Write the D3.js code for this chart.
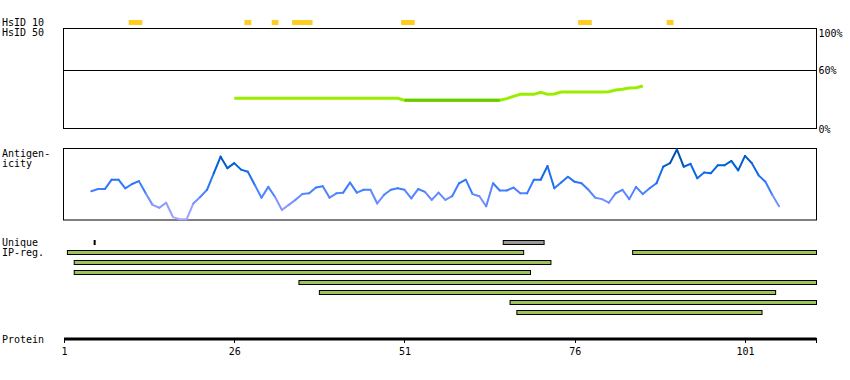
<!DOCTYPE html>
<html>
<head>
<meta charset="utf-8">
<script src="https://cdn.jsdelivr.net/npm/d3@7"></script>
<style>
  html, body { margin: 0; padding: 0; background: #fff; }
  svg text { font-family: "DejaVu Sans Mono", monospace; font-size: 10px; fill: #000; }
</style>
</head>
<body>
<svg id="chart" width="850" height="380"></svg>
<script>
// ---------------- data ----------------
const proteinLength = 111;
const axisTicks = [1, 26, 51, 76, 101];

// HsID 10 regions (residue start, end)
const hsid10Start = [11, 28, 32, 35, 51, 77, 90];
const hsid10End   = [12, 28, 32, 37, 52, 78, 90];

// HsID 50 identity (%) for residues 26..86
const hsid50FirstResidue = 26;
const hsid50Values = [
  31,31,31,31,31,31,31,31,31,31,31,31,31,31,31,31,31,31,31,31,31,31,31,31,31,
  29,29,29,29,29,29,29,29,29,29,29,29,29,29,29,
  30.7,33,35,35,35,37,35,35.4,
  37.4,37.4,37.4,37.4,37.4,37.4,37.4,
  37.7,39.4,40.1,41.4,41.7,43.4
];
const hsid50DarkStart = 51, hsid50DarkEnd = 65;
const hsid50Threshold = 60;
const hsid50AxisLabels = ["100%", "60%", "0%"];
const hsid50AxisValues = [100, 60, 0];

// Antigenicity score (0..100) for residues 5..106
const antigenFirstResidue = 5;
const antigenValues = [
  40,43,43,56,56,44,50,54,37,21,
  17,24,4,1,1,23,32,42,65,88,
  72,79,70,67,49,31,46,32,14,21,
  28,36,37,45,47,31,37,38,52,38,
  42,42,23,35,42,44,42,30,43,39,
  28,38,28,33,51,56,36,33,19,51,
  41,41,45,37,37,56,56,75,44,52,
  60,53,51,42,31,29,24,37,42,29,
  46,36,44,51,74,79,98,74,78,58,
  66,65,76,76,82,69,89,79,62,53,
  35,19
];

// Unique regions (residue boundaries)
const uniqueStart = [5.5, 65.5];
const uniqueEnd   = [5.5, 71.5];

// IP regions (residue start, end, row)
const ipStart = [2, 85, 3, 3, 36, 39, 67, 68];
const ipEnd   = [68, 111, 72, 69, 111, 105, 111, 103];
const ipRow   = [0, 0, 1, 2, 3, 4, 5, 6];

// ---------------- drawing ----------------
const svg = d3.select("#chart");
const x = d3.scaleLinear().domain([1, proteinLength + 0.5]).range([64, 816.5]);
const xL = x(1), xR = x(proteinLength + 0.5);

// left labels
const labels = [
  ["HsID 10", 26], ["HsID 50", 36], ["Antigen-", 157], ["icity", 167],
  ["Unique", 246], ["IP-reg.", 256], ["Protein", 343]
];
svg.selectAll("text.lbl").data(labels).join("text")
  .attr("class", "lbl").attr("x", 2).attr("y", d => d[1]).text(d => d[0]);

// HsID 10 bars
svg.selectAll("rect.h10").data(hsid10Start.map((s, i) => [s, hsid10End[i]])).join("rect")
  .attr("class", "h10")
  .attr("x", d => x(d[0] - 0.5)).attr("width", d => x(d[1] + 0.5) - x(d[0] - 0.5))
  .attr("y", 20).attr("height", 5).attr("fill", "#ffcc22");

// HsID 50 panel
const yP = d3.scaleLinear().domain([0, 100]).range([129, 30]);
svg.append("rect").attr("x", xL - 0.5).attr("y", 28.5).attr("width", xR - xL + 0.5).attr("height", 100)
  .attr("fill", "none").attr("stroke", "#000").attr("stroke-width", 1);
svg.append("line").attr("x1", xL).attr("x2", xR)
  .attr("y1", Math.round(yP(hsid50Threshold)) + 0.5).attr("y2", Math.round(yP(hsid50Threshold)) + 0.5)
  .attr("stroke", "#000").attr("stroke-width", 1);
const pctY = [37, 74, 133];
svg.selectAll("text.pct").data(hsid50AxisLabels).join("text")
  .attr("class", "pct").attr("x", xR + 2).attr("y", (d, i) => pctY[i]).text(d => d);

const h50 = hsid50Values.map((v, i) => ({ r: hsid50FirstResidue + i, v }));
const lineP = d3.line().x(d => x(d.r)).y(d => yP(d.v));
svg.append("path").datum(h50).attr("d", lineP)
  .attr("fill", "none").attr("stroke", "#99ee00").attr("stroke-width", 3);
svg.append("path").datum(h50.filter(d => d.r >= hsid50DarkStart && d.r <= hsid50DarkEnd)).attr("d", lineP)
  .attr("fill", "none").attr("stroke", "#66cc00").attr("stroke-width", 3);

// Antigenicity panel
const yA = d3.scaleLinear().domain([0, 100]).range([220, 148]);
svg.append("rect").attr("x", xL - 0.5).attr("y", 148.5).attr("width", xR - xL + 0.5).attr("height", 71.5)
  .attr("fill", "none").attr("stroke", "#000").attr("stroke-width", 1);
const aCol = d3.scaleLinear().domain([0, 20, 45, 75, 100])
  .range(["#b0a8ff", "#8a98ff", "#3a7cff", "#0062dc", "#003f8a"]);
const ag = antigenValues.map((v, i) => ({ r: antigenFirstResidue + i, v }));
const segs = d3.pairs(ag);
svg.selectAll("line.ag").data(segs).join("line")
  .attr("class", "ag")
  .attr("x1", d => x(d[0].r)).attr("y1", d => yA(d[0].v))
  .attr("x2", d => x(d[1].r)).attr("y2", d => yA(d[1].v))
  .attr("stroke", d => aCol((d[0].v + d[1].v) / 2))
  .attr("stroke-width", 2).attr("stroke-linecap", "round");

// Unique regions
uniqueStart.forEach((s, i) => {
  const e = uniqueEnd[i];
  if (e - s <= 0) {
    svg.append("rect").attr("x", x(s) - 1).attr("y", 240).attr("width", 2).attr("height", 5).attr("fill", "#000");
  } else {
    svg.append("rect").attr("x", x(s)).attr("y", 240.5).attr("width", x(e) - x(s)).attr("height", 4)
      .attr("fill", "#999999").attr("stroke", "#000").attr("stroke-width", 1);
  }
});

// IP regions
svg.selectAll("rect.ip").data(ipStart.map((s, i) => ({ s, e: ipEnd[i], row: ipRow[i] }))).join("rect")
  .attr("class", "ip")
  .attr("x", d => x(d.s - 0.5)).attr("width", d => x(d.e + 0.5) - x(d.s - 0.5))
  .attr("y", d => 250.5 + d.row * 10).attr("height", 4)
  .attr("fill", "#9cc45a").attr("stroke", "#000").attr("stroke-width", 1);

// Protein axis
svg.append("line").attr("x1", xL).attr("x2", xR).attr("y1", 339).attr("y2", 339)
  .attr("stroke", "#000").attr("stroke-width", 3);
const tickPos = axisTicks.map(t => x(t)).concat([xR - 0.5]);
svg.selectAll("line.tk").data(tickPos).join("line")
  .attr("class", "tk").attr("x1", d => Math.round(d) + 0.5).attr("x2", d => Math.round(d) + 0.5)
  .attr("y1", 338).attr("y2", 343).attr("stroke", "#000").attr("stroke-width", 1);
svg.selectAll("text.tl").data(axisTicks).join("text")
  .attr("class", "tl").attr("x", d => x(d) + 0.5).attr("y", 355)
  .attr("text-anchor", "middle").text(d => d);
</script>
</body>
</html>
